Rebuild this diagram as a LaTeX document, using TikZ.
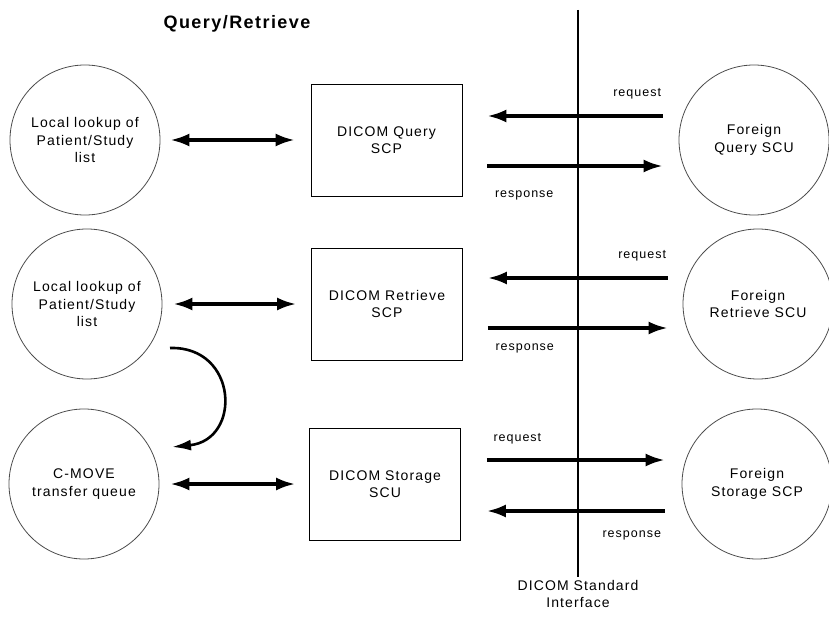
\documentclass[tikz,border=0pt]{standalone}
\usepackage{fontspec}
\setmainfont{Liberation Sans}[LetterSpace=8]
\usetikzlibrary{arrows.meta}

\begin{document}
\begin{tikzpicture}[x=1pt, y=-1pt, font=\fontsize{14}{17.5}\selectfont,
	proc/.style={draw=black!70, line width=.8pt, circle, minimum size=150pt, inner sep=0pt, align=center},
	unit/.style={draw, line width=.8pt, rectangle, minimum width=151pt, minimum height=112pt, align=center},
	sig/.style={line width=3.2pt, -{Latex[length=19pt,width=13pt]}},
	dbl/.style={line width=3.2pt, {Latex[length=19pt,width=13pt]}-{Latex[length=19pt,width=13pt]}},
	lbl/.style={font=\fontsize{12.5}{15}\selectfont, inner sep=0pt}]
	\useasboundingbox (0,0) rectangle (829,620);
	\node[font=\bfseries\fontsize{18}{21}\selectfont] (title) at (237,24) {Query/Retrieve};
	% local side
	\node[proc] (lq) at (85,140) {Local lookup of\\Patient/Study\\list};
	\node[proc] (lr) at (87,304) {Local lookup of\\Patient/Study\\list};
	\node[proc] (lm) at (84,484) {C-MOVE\\transfer queue};
	% DICOM services
	\node[unit] (bq) at (386.5,140) {DICOM Query\\SCP};
	\node[unit] (br) at (387,304) {DICOM Retrieve\\SCP};
	\node[unit] (bs) at (385,484) {DICOM Storage\\SCU};
	% foreign side
	\node[proc] (fq) at (754,140) {Foreign\\Query SCU};
	\node[proc] (fr) at (758,304) {Foreign\\Retrieve SCU};
	\node[proc] (fs) at (757,484) {Foreign\\Storage SCP};
	% interface line
	\draw[line width=1.3pt] (578,10) coordinate (itop) -- (578,577) coordinate (ibot);
	\node[below, align=center, inner sep=3pt] (std) at (ibot) {DICOM Standard\\Interface};
	% local links
	\draw[dbl, shorten <=10pt, shorten >=16pt] (lq) -- (bq);
	\draw[dbl, shorten <=11pt, shorten >=15pt] (lr) -- (br);
	\draw[dbl, shorten <=11pt, shorten >=14pt] (lm) -- (bs);
	\coordinate (mvA) at (170,348);
	\coordinate (mvB) at (172,447);
	\draw[line width=2.6pt, -{Latex[length=19pt,width=11pt]}] (mvA) .. controls (238,346) and (242,440) .. (mvB);
	% query
	\draw[sig] ([shift={(-16pt,24pt)}]fq.west) -- ([shift={(25pt,24pt)}]bq.east)
	  node[lbl, at start, anchor=south east, yshift=15pt] {request};
	\draw[sig] ([shift={(25pt,-26pt)}]bq.east) -- ([shift={(-16pt,-26pt)}]fq.west)
	  node[lbl, at start, anchor=north west, xshift=6pt, yshift=-23pt] {response};
	% retrieve
	\draw[sig] ([shift={(-15pt,26pt)}]fr.west) -- ([shift={(25pt,26pt)}]br.east)
	  node[lbl, at start, anchor=south east, yshift=15pt] {request};
	\draw[sig] ([shift={(25pt,-24pt)}]br.east) -- ([shift={(-15pt,-24pt)}]fr.west)
	  node[lbl, at start, anchor=north west, xshift=6pt, yshift=-14pt] {response};
	% storage
	\draw[sig] ([shift={(26pt,24pt)}]bs.east) -- ([shift={(-17pt,24pt)}]fs.west)
	  node[lbl, at start, anchor=south west, xshift=5pt, yshift=14pt] {request};
	\draw[sig] ([shift={(-17pt,-27pt)}]fs.west) -- ([shift={(26pt,-27pt)}]bs.east)
	  node[lbl, at start, anchor=north east, xshift=-2pt, yshift=-18pt] {response};
\end{tikzpicture}
\end{document}
